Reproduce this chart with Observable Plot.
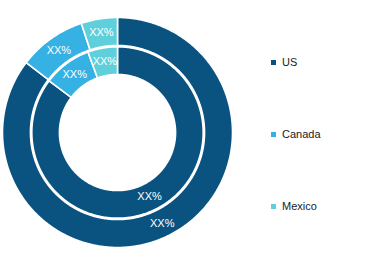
<!DOCTYPE html>
<html>
<head>
<meta charset="utf-8">
<script src="https://cdn.jsdelivr.net/npm/d3@7"></script>
<script src="https://cdn.jsdelivr.net/npm/@observablehq/plot@0.6"></script>
<style>
  body { margin: 0; background: #fff; }
  #wrap { position: relative; width: 386px; height: 263px; overflow: hidden; }
  #legend { position: absolute; left: 271px; top: 0; font-family: "Liberation Sans", Arial, sans-serif; font-size: 11px; color: #222; }
  .item { position: absolute; left: 0; white-space: nowrap; display: flex; align-items: center; height: 12px; }
  .sw { width: 5px; height: 5px; margin-right: 6px; }
</style>
</head>
<body>
<div id="wrap"><div id="legend"></div></div>
<script>
const categories = ["US", "Canada", "Mexico"];
const outerValues = [85.4, 9.5, 5.1];
const innerValues = [85.3, 9.1, 5.6];
const outerLabels = ["XX%", "XX%", "XX%"];
const innerLabels = ["XX%", "XX%", "XX%"];
const colors = ["#0a5380", "#35b2e3", "#5fcfdc"];

const rings = [
  {name: "outer", values: outerValues, labels: outerLabels, r0: 0.757, r1: 1.0},
  {name: "inner", values: innerValues, labels: innerLabels, r0: 0.505, r1: 0.745}
];

const polys = [];
const labelRows = [];
for (const ring of rings) {
  const total = d3.sum(ring.values);
  let acc = 0;
  ring.values.forEach((v, i) => {
    const a0 = acc / total * 2 * Math.PI;
    acc += v;
    const a1 = acc / total * 2 * Math.PI;
    const key = ring.name + "-" + categories[i];
    const n = Math.max(2, Math.ceil((a1 - a0) / (Math.PI / 360)));
    const pts = [];
    for (let k = 0; k <= n; k++) {
      const a = a0 + (a1 - a0) * k / n;
      pts.push({key, cat: categories[i], x: ring.r1 * Math.sin(a), y: ring.r1 * Math.cos(a)});
    }
    for (let k = n; k >= 0; k--) {
      const a = a0 + (a1 - a0) * k / n;
      pts.push({key, cat: categories[i], x: ring.r0 * Math.sin(a), y: ring.r0 * Math.cos(a)});
    }
    pts.push({...pts[0]});
    polys.push(...pts);
    const am = (a0 + a1) / 2, rm = (ring.r0 + ring.r1) / 2;
    labelRows.push({x: rm * Math.sin(am), y: rm * Math.cos(am), text: ring.labels[i]});
  });
}

const chart = Plot.plot({
  width: 386,
  height: 263,
  margin: 0,
  x: {domain: [-1, 1], range: [2, 232], axis: null},
  y: {domain: [-1, 1], range: [247, 17], axis: null},
  color: {domain: categories, range: colors},
  style: {background: "#fff"},
  marks: [
    Plot.line(polys, {x: "x", y: "y", z: "key", fill: "cat", stroke: "white", strokeWidth: 1.6, curve: "linear"}),
    Plot.text(labelRows, {x: "x", y: "y", text: "text", fill: "white", fontSize: 11, fontFamily: "Liberation Sans, Arial, sans-serif"})
  ]
});
document.getElementById("wrap").prepend(chart);

const legend = document.getElementById("legend");
const legendTops = [56, 128, 200];
categories.forEach((c, i) => {
  const it = document.createElement("div");
  it.className = "item";
  it.style.top = legendTops[i] + "px";
  it.innerHTML = `<span class="sw" style="background:${colors[i]}"></span><span>${c}</span>`;
  legend.appendChild(it);
});
</script>
</body>
</html>
